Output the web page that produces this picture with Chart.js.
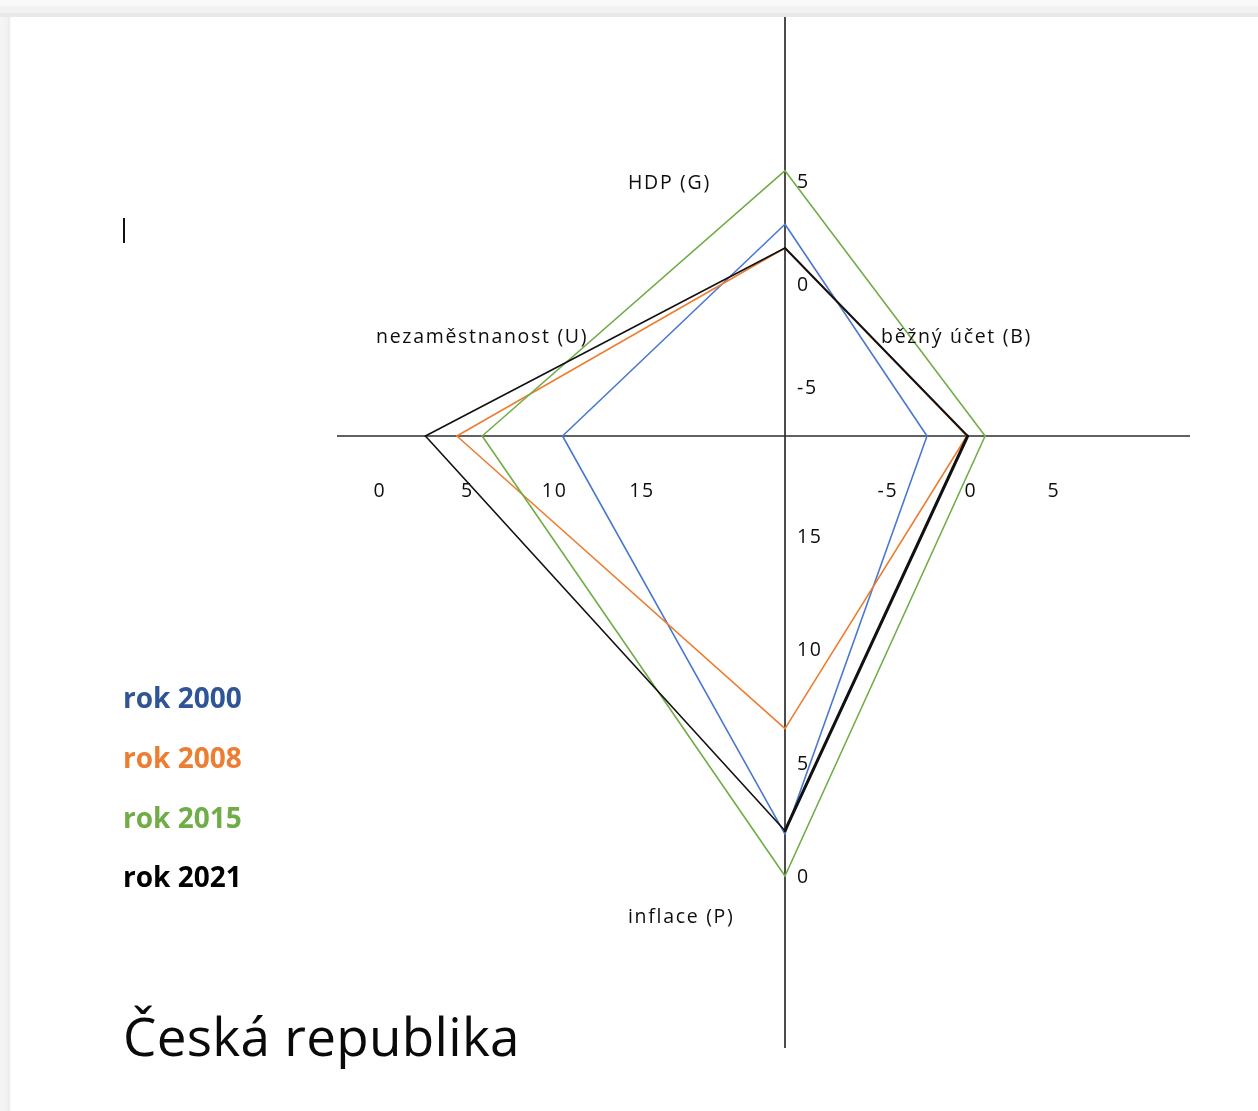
<!DOCTYPE html>
<html>
<head>
<meta charset="utf-8">
<script src="https://cdn.jsdelivr.net/npm/chart.js@4.4.1/dist/chart.umd.min.js"></script>
<style>
  html, body { margin:0; padding:0; width:1258px; height:1111px; overflow:hidden; background:#ffffff; }
  #topband { position:absolute; left:0; top:0; width:1258px; height:17px;
    background:linear-gradient(#f9f9f9 0, #f9f9f9 6px, #f1f1f1 6px, #f1f1f1 13px, #e8e8e8 13px, #e8e8e8 17px); }
  #leftband { position:absolute; left:0; top:17px; width:11px; height:1094px;
    background:linear-gradient(90deg, #f5f5f5 0, #f2f2f2 7px, #eaeaea 9px, #f4f4f4 10px, #ffffff 11px); }
  #chartbox { position:absolute; left:0; top:0; width:1258px; height:1111px; }
  .txt { position:absolute; font-family:"Open Sans", "Noto Sans", sans-serif; white-space:nowrap; color:#0e0e0e; }
  .axisname { font-size:19.5px; line-height:19.5px; letter-spacing:1.7px; }
  .legend { font-size:28px; line-height:28px; font-weight:700; left:123px; }
  #title { left:123px; top:1009px; font-size:53px; line-height:53px; color:#0a0a0a; letter-spacing:0.3px; }
  #caret { position:absolute; left:123px; top:218px; width:2px; height:25px; background:#111; }
</style>
</head>
<body>
<div id="topband"></div>
<div id="leftband"></div>
<div id="chartbox"><canvas id="c" width="1258" height="1111"></canvas></div>
<div id="caret"></div>

<div class="txt axisname" id="nG" style="left:628px; top:172px;">HDP (G)</div>
<div class="txt axisname" id="nB" style="left:881px; top:326px;">běžný účet (B)</div>
<div class="txt axisname" id="nU" style="left:376px; top:326px;">nezaměstnanost (U)</div>
<div class="txt axisname" id="nP" style="left:628px; top:906px;">inflace (P)</div>

<div id="legendbox"></div>
<div class="txt" id="title">Česká republika</div>

<script>
// ---------------- data ----------------
const years      = ['rok 2000', 'rok 2008', 'rok 2015', 'rok 2021'];
const hdpG       = [2.9, 1.75, 5.5, 1.75];      // HDP (G), up
const bezUcetB   = [-2.65, -0.25, 0.85, -0.2];  // běžný účet (B), right
const inflaceP   = [1.85, 6.5, 0.0, 2.0];       // inflace (P), down (0 at outer end)
const nezamU     = [10.45, 4.4, 5.85, 2.6];     // nezaměstnanost (U), left (0 at outer end)

const ticksG = [5, 0, -5];
const ticksB = [-5, 0, 5];
const ticksP = [15, 10, 5, 0];
const ticksU = [0, 5, 10, 15];

// ---------------- styles / layout ----------------
const lineColors   = ['#4a78d0', '#ED7D31', '#70AD47', '#111111'];
const legendColors = ['#2F5597', '#ED7D31', '#70AD47', '#000000'];
const drawOrder    = [3, 2, 1, 0];
// per series, widths of segments G-B, B-P, P-U, U-G
const segWidths = [[1.6,1.6,1.6,1.6],[1.6,1.6,1.6,1.6],[1.6,1.6,1.6,1.6],[2,3,1.6,1.6]];

const AREA = { left:337, right:1190, top:17, bottom:1048 };
const CENTER = { x:785, y:436 };
// pixel anchors of each axis' own scale: [value, pixel]
const anchors = {
  g: [[0, 284], [5, 181]],
  p: [[0, 876], [15, 536]],
  b: [[0, 971], [5, 1054]],
  u: [[0, 380], [15, 642]]
};
function valAt(axis, px) {
  const [[v1, p1], [v2, p2]] = anchors[axis];
  return v1 + (px - p1) * (v2 - v1) / (p2 - p1);
}
const C = { g: valAt('g', CENTER.y), p: valAt('p', CENTER.y), b: valAt('b', CENTER.x), u: valAt('u', CENTER.x) };

// ---------------- legend (HTML text) ----------------
const legendTops = [683, 743, 803, 862];
const lb = document.getElementById('legendbox');
years.forEach((y, i) => {
  const d = document.createElement('div');
  d.className = 'txt legend';
  d.style.top = legendTops[i] + 'px';
  d.style.color = legendColors[i];
  d.textContent = y;
  lb.appendChild(d);
});

// ---------------- datasets: each side of a quadrangle uses the two axes it joins ----------------
const datasets = [];
years.forEach((name, i) => {
  const sides = [
    { x:'b', y:'g', data:[{x:C.b, y:hdpG[i]}, {x:bezUcetB[i], y:C.g}] },
    { x:'b', y:'p', data:[{x:bezUcetB[i], y:C.p}, {x:C.b, y:inflaceP[i]}] },
    { x:'u', y:'p', data:[{x:C.u, y:inflaceP[i]}, {x:nezamU[i], y:C.p}] },
    { x:'u', y:'g', data:[{x:nezamU[i], y:C.g}, {x:C.u, y:hdpG[i]}] }
  ];
  sides.forEach((s, k) => {
    datasets.push({
      label: name,
      data: s.data,
      xAxisID: s.x,
      yAxisID: s.y,
      showLine: true,
      fill: false,
      tension: 0,
      pointRadius: 0,
      pointHoverRadius: 0,
      borderColor: lineColors[i],
      borderWidth: segWidths[i][k],
      borderCapStyle: 'round',
      order: drawOrder[i]
    });
  });
});

const TICK_FONT = '19.5px "Open Sans", "Noto Sans", sans-serif';

const crossAxes = {
  id: 'crossAxes',
  beforeDatasetsDraw(chart) {
    const { ctx, chartArea: a, scales: s } = chart;
    const cx = s.b.getPixelForValue(C.b);
    const cy = s.g.getPixelForValue(C.g);
    ctx.save();
    ctx.strokeStyle = '#2e2e2e';
    ctx.lineWidth = 1.7;
    ctx.beginPath();
    ctx.moveTo(a.left, cy); ctx.lineTo(a.right, cy);
    ctx.moveTo(cx, a.top); ctx.lineTo(cx, a.bottom);
    ctx.stroke();
    ctx.restore();
  },
  afterDatasetsDraw(chart) {
    const { ctx, scales: s } = chart;
    const cx = s.b.getPixelForValue(C.b);
    const cy = s.g.getPixelForValue(C.g);
    ctx.save();
    ctx.font = TICK_FONT;
    ctx.fillStyle = '#0e0e0e';
    try { ctx.letterSpacing = '1.7px'; } catch (e) {}
    ctx.textBaseline = 'alphabetic';
    // vertical axis labels (right of axis)
    ctx.textAlign = 'left';
    ticksG.forEach(v => ctx.fillText(String(v), cx + 12, s.g.getPixelForValue(v) + 7));
    ticksP.forEach(v => ctx.fillText(String(v), cx + 12, s.p.getPixelForValue(v) + 7));
    // horizontal axis labels (below axis)
    ctx.textAlign = 'center';
    ticksB.forEach(v => ctx.fillText(String(v), s.b.getPixelForValue(v), cy + 61));
    ticksU.forEach(v => ctx.fillText(String(v), s.u.getPixelForValue(v), cy + 61));
    ctx.restore();
  }
};

new Chart(document.getElementById('c'), {
  type: 'scatter',
  data: { datasets },
  options: {
    responsive: false,
    devicePixelRatio: 1,
    animation: false,
    events: [],
    layout: { padding: { left: AREA.left, top: AREA.top, right: 1258 - AREA.right, bottom: 1111 - AREA.bottom } },
    plugins: { legend: { display: false }, tooltip: { enabled: false }, title: { display: false } },
    scales: {
      g: { type:'linear', axis:'y', position:'left', display:false, min: valAt('g', AREA.bottom), max: valAt('g', AREA.top) },
      p: { type:'linear', axis:'y', position:'left', display:false, min: valAt('p', AREA.bottom), max: valAt('p', AREA.top) },
      b: { type:'linear', axis:'x', position:'bottom', display:false, min: valAt('b', AREA.left), max: valAt('b', AREA.right) },
      u: { type:'linear', axis:'x', position:'bottom', display:false, min: valAt('u', AREA.left), max: valAt('u', AREA.right) }
    }
  },
  plugins: [crossAxes]
});
</script>
</body>
</html>
